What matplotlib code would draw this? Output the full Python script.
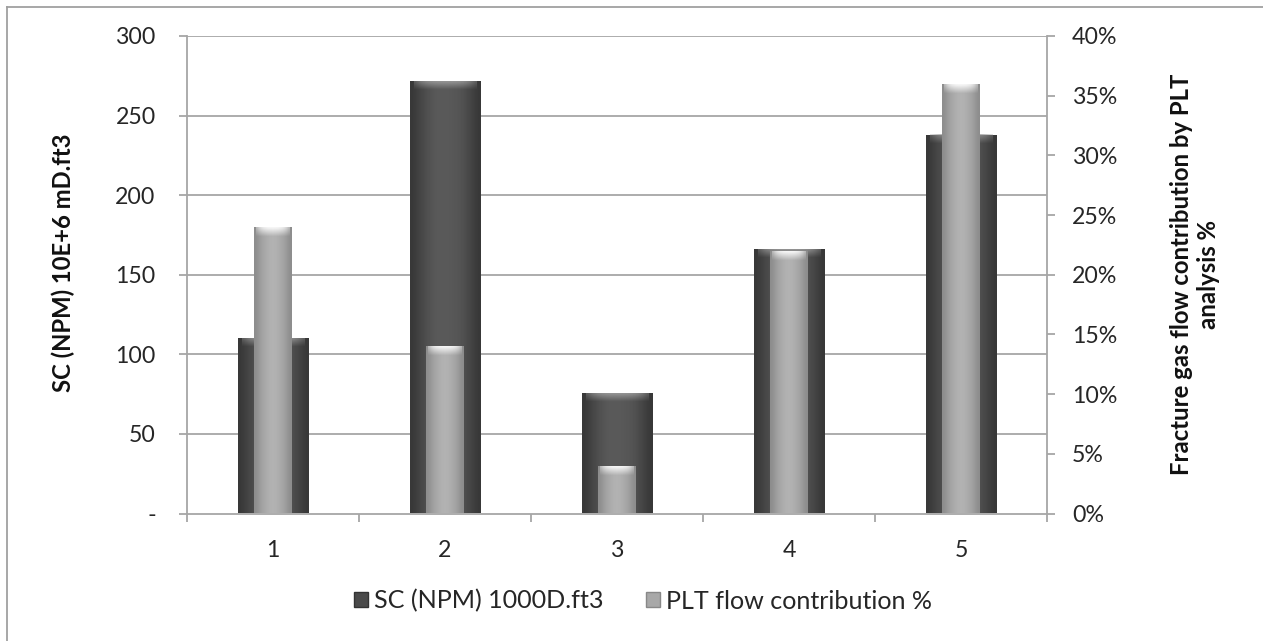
import numpy as np
import matplotlib
matplotlib.use("Agg")
import matplotlib.pyplot as plt
from matplotlib.patches import Rectangle
from matplotlib.lines import Line2D
from matplotlib.ticker import FixedLocator, FuncFormatter

plt.rcParams['font.family'] = ['Lato', 'DejaVu Sans']

categories = ['1', '2', '3', '4', '5']
sc_values = [110, 272, 76, 166, 238]          # SC (NPM) 1000D.ft3, left axis
plt_values = [24, 14, 4, 22, 36]              # PLT flow contribution %, right axis
left_ticks = [0, 50, 100, 150, 200, 250, 300]
right_ticks = [0, 5, 10, 15, 20, 25, 30, 35, 40]
left_label = 'SC (NPM) 10E+6 mD.ft3'
right_label = 'Fracture gas flow contribution by PLT\nanalysis %'
legend_labels = ['SC (NPM) 1000D.ft3', 'PLT flow contribution %']

W, H = 1263, 641
fig = plt.figure(figsize=(W / 100, H / 100), dpi=100)
renderer = fig.canvas.get_renderer()


def fit_size(s, target_px, weight='normal'):
    t = fig.text(0, 0, s, fontsize=10, fontweight=weight)
    w = t.get_window_extent(renderer).width
    t.remove()
    return 10 * target_px / w


fs_tick = fit_size('300', 40)
fs_lab = fit_size(left_label, 259, 'bold')
fs_leg = fit_size(legend_labels[0], 229)

ax = fig.add_axes([187 / W, 1 - 513.5 / H, (1047 - 187) / W, (513.5 - 36) / H])
ax2 = ax.twinx()

grid_c = '#a6a6a6'
txt_c = '#262626'
x = np.arange(len(categories))


def shaded_bars(axis, xs, vals, width, profile, top_c, cap_px, zorder):
    bars = axis.bar(xs, vals, width, color='none', edgecolor='none', zorder=zorder)
    grad = np.array(profile)[None, :]
    cmap = plt.get_cmap('gray')
    ylim = axis.get_ylim()
    px_per_unit = (513.5 - 36) / (ylim[1] - ylim[0])
    cap = cap_px / px_per_unit
    for b in bars:
        x0, w, h = b.get_x(), b.get_width(), b.get_height()
        im = axis.imshow(grad, cmap=cmap, vmin=0, vmax=1, aspect='auto',
                         extent=(x0, x0 + w, 0, h), zorder=zorder,
                         interpolation='bicubic')
        im.set_clip_path(b)
        capgrad = np.linspace(1.0, 0.0, 8)[:, None] * np.ones((1, 20))
        edge = np.abs(np.linspace(-1, 1, 20))
        capgrad = capgrad * (1 - 0.6 * edge ** 3)[None, :]
        rgba = np.zeros((8, 20, 4))
        rgba[..., :3] = matplotlib.colors.to_rgb(top_c)
        rgba[..., 3] = capgrad * 0.9
        axis.imshow(rgba, aspect='auto', extent=(x0 + w * 0.06, x0 + w * 0.94, h - cap, h),
                    zorder=zorder + 0.1, interpolation='bicubic')
    return bars


ax.set_xlim(-0.5, 4.5)
ax.set_ylim(0, 300)
ax2.set_ylim(0, 40)

dark_profile = [0.22, 0.26, 0.30, 0.33, 0.35, 0.35, 0.35, 0.34, 0.33, 0.30, 0.26, 0.22]
shaded_bars(ax, x, sc_values, 0.41, dark_profile, '#9a9a9a', 9, 3)

light_profile = [0.55, 0.60, 0.64, 0.67, 0.69, 0.70, 0.69, 0.67, 0.64, 0.60, 0.55]
shaded_bars(ax2, x, plt_values, 0.22, light_profile, '#ffffff', 10, 3)

ax.set_zorder(1)
ax2.set_zorder(2)
ax.patch.set_visible(False)

for yv in left_ticks[1:]:
    ax.axhline(yv, color=grid_c, lw=1.3, zorder=0)

for a in (ax, ax2):
    a.spines['top'].set_visible(False)
    for s in ('left', 'right', 'bottom'):
        a.spines[s].set_color(grid_c)
        a.spines[s].set_linewidth(1.3)
ax.spines['right'].set_visible(False)
ax2.spines['left'].set_visible(False)
ax2.spines['bottom'].set_visible(False)

tick_len = 6
ax.set_yticks(left_ticks)
ax.set_yticklabels(['-' if v == 0 else str(v) for v in left_ticks])
ax.tick_params(axis='y', direction='out', length=tick_len, width=1.3, color=grid_c,
               labelsize=fs_tick, labelcolor=txt_c, pad=16.5)

ax2.set_yticks(right_ticks)
ax2.yaxis.set_major_formatter(FuncFormatter(lambda v, p: f"{int(v)}%"))
ax2.tick_params(axis='y', direction='out', length=tick_len, width=1.3, color=grid_c,
                labelsize=fs_tick, labelcolor=txt_c, pad=12)

ax.xaxis.set_major_locator(FixedLocator(np.arange(-0.5, 5.0, 1.0)))
ax.xaxis.set_minor_locator(FixedLocator(x))
ax.set_xticklabels([''] * 6)
ax.set_xticklabels(categories, minor=True)
ax.tick_params(axis='x', which='major', direction='out', length=tick_len, width=1.3, color=grid_c)
ax.tick_params(axis='x', which='minor', length=0, labelsize=fs_tick, labelcolor=txt_c, pad=19)

ax.set_ylabel(left_label, fontsize=fs_lab, fontweight='bold', color='#111111')
ax.yaxis.set_label_coords(-(187 - 63) / (1047 - 187), (513.5 - 262.5) / (513.5 - 36))
ax.yaxis.label.set_va('center')
ax2.set_ylabel(right_label, fontsize=fs_lab, fontweight='bold', color='#111111',
               rotation=90, linespacing=1.25)
ax2.yaxis.label.set_multialignment('center')
ax2.yaxis.set_label_coords(1 + (1195 - 1047) / (1047 - 187), 0.5)
ax2.yaxis.label.set_va('center')

handles = [Rectangle((0, 0), 1, 1, facecolor='#4a4a4a', edgecolor='#333333'),
           Rectangle((0, 0), 1, 1, facecolor='#a8a8a8', edgecolor='#888888')]
fig.legend(handles, legend_labels,
           loc='center', bbox_to_anchor=(643 / W, 1 - 601 / H), ncol=2, frameon=False,
           fontsize=fs_leg, handlelength=0.55, handleheight=0.55, handletextpad=0.25,
           columnspacing=1.7, labelcolor=txt_c, borderpad=0, borderaxespad=0)

fig.add_artist(Line2D([7 / W, 7 / W], [0, 1 - 7 / H], color='#a0a0a0', lw=1.3))
fig.add_artist(Line2D([7 / W, 1], [1 - 7 / H, 1 - 7 / H], color='#a0a0a0', lw=1.3))

fig.savefig('out.png', dpi=100)
